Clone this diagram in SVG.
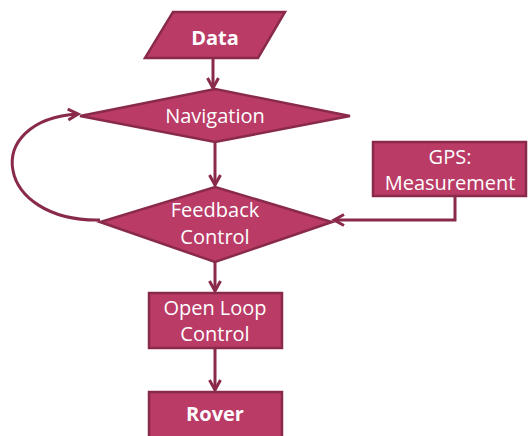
<svg xmlns="http://www.w3.org/2000/svg" width="528" height="436" viewBox="0 0 528 436">
<style>
.n{fill:#b93b66;stroke:#8a2a4b;stroke-width:2.5}
.t{fill:#fff;font-family:"Open Sans","DejaVu Sans",sans-serif;font-size:20px;text-anchor:middle}
.b{font-weight:bold}
.c{fill:none;stroke:#8a2a4b;stroke-width:3}
</style>
<defs>
<marker id="a" markerWidth="14" markerHeight="14" refX="11" refY="7" orient="auto" markerUnits="userSpaceOnUse">
<path d="M1,1.5 L11,7 L1,12.5" fill="none" stroke="#8a2a4b" stroke-width="3"/>
</marker>
</defs>
<g id="connectors">
<path class="c" d="M213,58 V88" marker-end="url(#a)"/>
<path class="c" d="M215,142 V185" marker-end="url(#a)"/>
<path class="c" d="M455,196 V220 H334" marker-end="url(#a)"/>
<path class="c" d="M100,220 C-5,222 -20,120 78,114" marker-end="url(#a)"/>
<path class="c" d="M215,262 V291" marker-end="url(#a)"/>
<path class="c" d="M215,348 V390" marker-end="url(#a)"/>
</g>
<g id="data">
<polygon class="n" points="173,12 285,12 258,58 145,58"/>
<text class="t b" x="215" y="45">Data</text>
</g>
<g id="navigation">
<polygon class="n" points="215,89 350,116 215,142 80,116"/>
<text class="t" x="215" y="123">Navigation</text>
</g>
<g id="feedback">
<polygon class="n" points="215,187 332,222 215,262 100,222"/>
<text class="t" x="215" y="217">Feedback</text>
<text class="t" x="215" y="244">Control</text>
</g>
<g id="gps">
<rect class="n" x="373" y="142" width="153" height="54"/>
<text class="t" x="450" y="164">GPS:</text>
<text class="t" x="450" y="190">Measurement</text>
</g>
<g id="openloop">
<rect class="n" x="149" y="293" width="133" height="55"/>
<text class="t" x="215" y="315">Open Loop</text>
<text class="t" x="215" y="341">Control</text>
</g>
<g id="rover">
<rect class="n" x="149" y="392" width="133" height="50"/>
<text class="t b" x="215" y="421">Rover</text>
</g>
</svg>
